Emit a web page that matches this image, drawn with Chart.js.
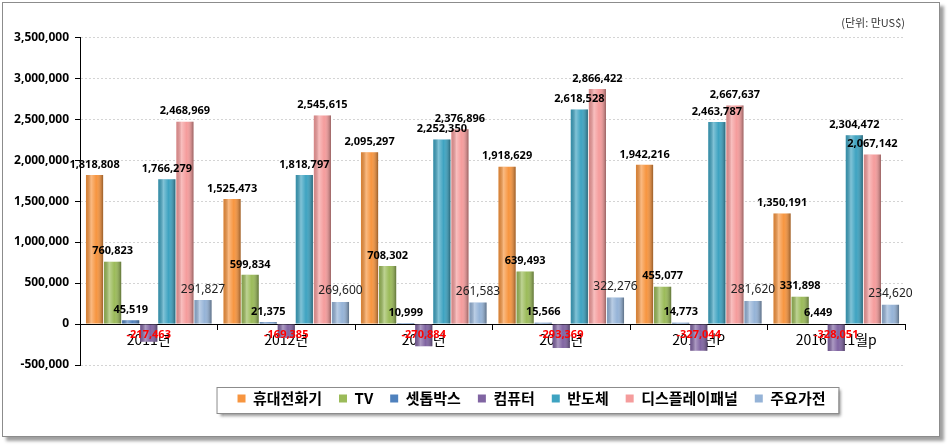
<!DOCTYPE html>
<html>
<head>
<meta charset="utf-8">
<script src="https://cdn.jsdelivr.net/npm/chart.js@4.4.0/dist/chart.umd.min.js"></script>
<style>
  body { margin: 0; background: #fff; }
  #wrap { position: relative; width: 950px; height: 447px; }
  #frame { position: absolute; left: 2px; top: 2px; width: 936px; height: 433px;
           border: 1px solid #8c8c8c; box-shadow: 4px 4px 3px #a0a0a0; background: #fff; }
  canvas { position: absolute; left: 0; top: 0; }
</style>
</head>
<body>
<div id="wrap">
  <div id="frame"></div>
  <canvas id="exportChart" width="950" height="447"></canvas>
</div>
<script>
// categories (years)
const categories = ['2011년', '2012년', '2013년', '2014년', '2015년P', '2016년11월p'];

// series values (단위: 만US$)
const mobilePhones = [1818808, 1525473, 2095297, 1918629, 1942216, 1350191];
const tvs          = [760823, 599834, 708302, 639493, 455077, 331898];
const setTopBoxes  = [45519, 21375, 10999, 15566, 14773, 6449];
const computers    = [-217463, -169385, -270884, -293369, -327044, -328051];
const semis        = [1766279, 1818797, 2252350, 2618528, 2463787, 2304472];
const displays     = [2468969, 2545615, 2376896, 2866422, 2667637, 2067142];
const appliances   = [291827, 269600, 261583, 322276, 281620, 234620];

// y axis ticks
const yMin = -500000;
const yMax = 3500000;
const yStep = 500000;

const unitText = '(단위: 만US$)';

const fmt = v => v.toLocaleString('en-US');

// gives the bars a rounded, cylinder-like shading
const shadePlugin = {
    id: 'shade',
    afterDatasetsDraw(chart) {
        const c = chart.ctx;
        chart.data.datasets.forEach((ds, i) => {
            chart.getDatasetMeta(i).data.forEach(bar => {
                const left = bar.x - bar.width / 2;
                const top = Math.min(bar.y, bar.base);
                const h = Math.abs(bar.base - bar.y);
                const g = c.createLinearGradient(left, 0, left + bar.width, 0);
                g.addColorStop(0, 'rgba(0,0,0,0.12)');
                g.addColorStop(0.3, 'rgba(255,255,255,0.35)');
                g.addColorStop(0.6, 'rgba(255,255,255,0)');
                g.addColorStop(1, 'rgba(0,0,0,0.38)');
                c.save();
                c.fillStyle = g;
                c.fillRect(left, top, bar.width, h);
                c.restore();
            });
        });
    }
};

// value labels above bars, red ones for negative values
const valueLabels = {
    id: 'valueLabels',
    afterDatasetsDraw(chart) {
        const c = chart.ctx;
        const zero = chart.scales.y.getPixelForValue(0);
        chart.data.datasets.forEach((ds, i) => {
            const plain = i === 6;
            chart.getDatasetMeta(i).data.forEach((bar, j) => {
                const v = ds.data[j];
                c.save();
                c.textAlign = 'center';
                c.font = plain ? '12px "Noto Sans"' : 'bold 11px "Noto Sans"';
                if (v < 0) {
                    c.fillStyle = '#ff0000';
                    c.textBaseline = 'middle';
                    c.fillText(fmt(v), bar.x, zero + 11);
                } else {
                    c.fillStyle = plain ? '#222' : '#000';
                    c.textBaseline = 'bottom';
                    c.fillText(fmt(v), bar.x, bar.y - 5);
                }
                c.restore();
            });
        });
    }
};

// move the legend a bit and put a framed box with shadow round it
const LEGEND_DX = 79;
const LEGEND_DY = 9;
const legendBox = {
    id: 'legendBox',
    afterLayout(chart) {
        const lg = chart.legend;
        lg.left += LEGEND_DX; lg.right += LEGEND_DX;
        lg.top += LEGEND_DY; lg.bottom += LEGEND_DY;
    },
    beforeDraw(chart) {
        const lg = chart.legend;
        const pad = lg.options.labels.padding;
        const rowW = lg.lineWidths[0];
        const startX = (lg.left + pad + lg.right - rowW) / 2;
        const x0 = startX - 21;
        const x1 = startX + rowW - pad + 13;
        const y0 = lg.top + pad - 4;
        const y1 = y0 + 26;
        const c = chart.ctx;
        c.save();
        c.shadowColor = 'rgba(0,0,0,0.45)';
        c.shadowOffsetX = 3;
        c.shadowOffsetY = 3;
        c.shadowBlur = 3;
        c.fillStyle = '#fff';
        c.fillRect(x0, y0, x1 - x0, y1 - y0);
        c.restore();
        c.save();
        c.strokeStyle = '#8c8c8c';
        c.lineWidth = 1;
        c.strokeRect(x0 + 0.5, y0 + 0.5, x1 - x0, y1 - y0);
        c.restore();
    }
};

const ctx = document.getElementById('exportChart').getContext('2d');

let exportChart = new Chart(ctx, {
    type: 'bar',
    data: {
        labels: categories,
        datasets: [
            { label: '휴대전화기', data: mobilePhones, backgroundColor: '#f7953f' },
            { label: 'TV', data: tvs, backgroundColor: '#9bbb59' },
            { label: '셋톱박스', data: setTopBoxes, backgroundColor: '#4f81bd' },
            { label: '컴퓨터', data: computers, backgroundColor: '#8064a2' },
            { label: '반도체', data: semis, backgroundColor: '#3ea3c1' },
            { label: '디스플레이패널', data: displays, backgroundColor: '#f59c9c' },
            { label: '주요가전', data: appliances, backgroundColor: '#95b3d7' }
        ]
    },
    options: {
        responsive: false,
        animation: false,
        categoryPercentage: 0.92,
        barPercentage: 0.95,
        layout: {
            padding: { left: 0, right: 45, top: 4, bottom: 40 }
        },
        plugins: {
            title: {
                display: true,
                text: unitText,
                align: 'end',
                color: '#333',
                font: { family: '"Noto Sans CJK KR"', size: 11, weight: 'normal' },
                padding: { top: 12, bottom: 8 }
            },
            legend: {
                position: 'bottom',
                labels: {
                    boxWidth: 8,
                    boxHeight: 8,
                    padding: 17,
                    color: '#000',
                    font: { family: '"Noto Sans CJK KR"', size: 15, weight: 'bold' }
                }
            },
            tooltip: { enabled: false }
        },
        scales: {
            x: {
                position: { y: 0 },
                grid: {
                    offset: true,
                    drawOnChartArea: false,
                    color: '#000',
                    tickLength: 5
                },
                border: { display: true, color: '#000', width: 1 },
                ticks: {
                    color: '#000',
                    padding: 2,
                    font: { family: '"Noto Sans CJK KR"', size: 14 }
                }
            },
            y: {
                min: yMin,
                max: yMax,
                afterFit(scale) { scale.width = 80; },
                grid: {
                    color: '#d4d4d4',
                    tickColor: '#000',
                    tickLength: 5
                },
                border: { display: true, color: '#000', width: 1, dash: [2, 2] },
                ticks: {
                    stepSize: yStep,
                    color: '#000',
                    padding: 6,
                    font: { family: '"Noto Sans"', size: 12, weight: 'bold' },
                    callback: v => fmt(v)
                }
            }
        }
    },
    plugins: [shadePlugin, valueLabels, legendBox]
});
</script>
</body>
</html>
